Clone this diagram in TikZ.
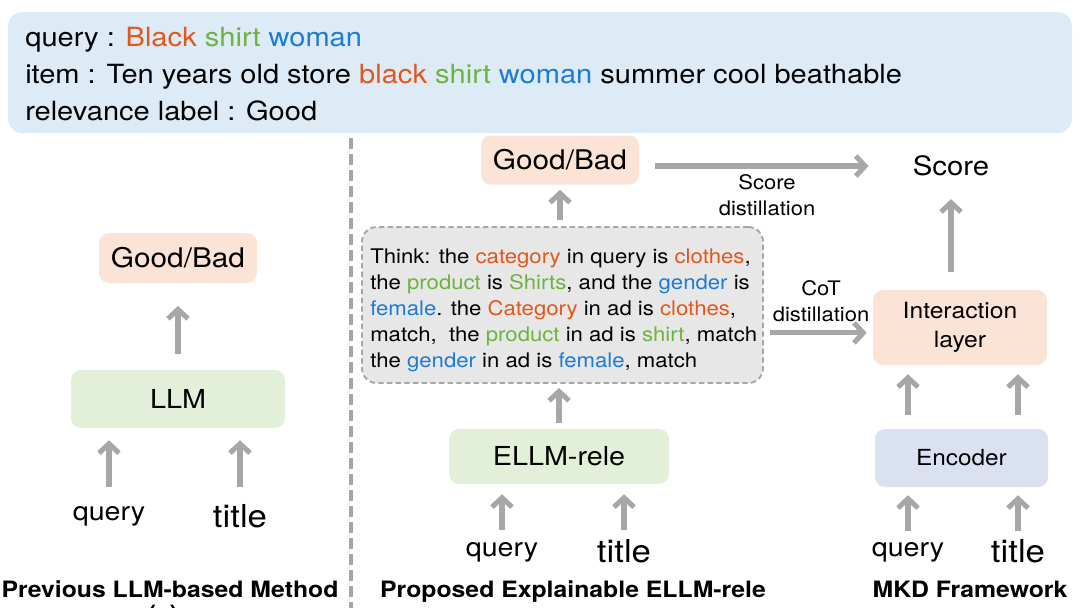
\documentclass[tikz,border=0pt]{standalone}
\usepackage{fontspec}
\setmainfont[FakeStretch=1.1]{TeX Gyre Heros}
\usetikzlibrary{arrows.meta}
\definecolor{cor}{HTML}{E2571B}
\definecolor{cgr}{HTML}{6DB33F}
\definecolor{cbl}{HTML}{1C7CD5}
\definecolor{topblue}{HTML}{DDEBF7}
\definecolor{salmon}{HTML}{FBE3D6}
\definecolor{lgreen}{HTML}{E2F0D9}
\definecolor{encblue}{HTML}{DAE2F2}
\definecolor{thinkgray}{HTML}{E8E7E7}
\definecolor{arrgray}{HTML}{A8A6A6}
\definecolor{dashgray}{HTML}{A6A6A6}
\newcommand{\co}[1]{\textcolor{cor}{#1}}
\newcommand{\cg}[1]{\textcolor{cgr}{#1}}
\newcommand{\cb}[1]{\textcolor{cbl}{#1}}
\begin{document}
\begin{tikzpicture}[x=0.75pt,y=-0.75pt,
  box/.style={rounded corners=7.5pt, inner sep=0pt, align=center},
  toptxt/.style={anchor=base west, inner sep=0pt, font=\fontsize{19.8}{24}\selectfont},
  thinktxt/.style={anchor=base west, inner sep=0pt, font=\fontsize{15.1}{19}\selectfont},
  inq/.style={anchor=base, inner sep=0pt, font=\fontsize{19.5}{23}\selectfont},
  intl/.style={anchor=base, inner sep=0pt, font=\fontsize{23.7}{28}\selectfont},
  lbl/.style={inner sep=0pt, align=center, font=\fontsize{15}{19.5}\selectfont},
  capt/.style={anchor=base, inner sep=0pt, font=\fontsize{16.9}{20}\selectfont\bfseries},
  arr/.style={draw=arrgray, line width=3.8pt, -{Straight Barb[length=7pt,width=15pt]}},
  divider/.style={draw=dashgray, line width=3.5pt, dash pattern=on 8.5pt off 3.5pt}
]
\useasboundingbox (0,0) rectangle (1080,607);
\clip (0,0) rectangle (1080,607);

% top information box
\node[box, fill=topblue, rounded corners=11pt, minimum width=798pt, minimum height=91pt] (info) at (540,72.5) {};
\node[toptxt] (l1) at (25,46) {query : \co{Black} \cg{shirt} \cb{woman}};
\node[toptxt] (l2) at (25,83) {item : Ten years old store \co{black} \cg{shirt} \cb{woman} summer cool beathable};
\node[toptxt] (l3) at (25,120) {relevance label : Good};

% divider
\draw[divider] (351,138) -- (351,610);

% left panel
\node[box, fill=salmon, minimum width=118.5pt, minimum height=37.5pt, font=\fontsize{20.3}{24}\selectfont] (gb1) at (178,258) {Good/Bad};
\node[box, fill=lgreen, minimum width=160.5pt, minimum height=43.5pt, font=\fontsize{19.6}{24}\selectfont] (llm) at (178,399) {LLM};
\node[inq] (q1) at (109,520) {query};
\node[intl] (t1) at (240,527) {title};
\draw[arr, shorten <=12pt, shorten >=17pt] (llm.north) -- (gb1.south);
\draw[arr, shorten <=13.8pt, shorten >=9pt] (q1.north) -- (q1.north |- llm.south);
\draw[arr, shorten <=12.2pt, shorten >=9pt] (t1.north) -- (t1.north |- llm.south);
\node[capt] (c1) at (170,597) {Previous LLM-based Method};
\node[capt] (c1b) at (163,621) {(a)};

% middle panel
\node[box, fill=salmon, minimum width=118.5pt, minimum height=36.75pt, font=\fontsize{20.3}{24}\selectfont] (gb2) at (560,160) {Good/Bad};
\node[box, fill=thinkgray, draw=dashgray, line width=1.4pt, dash pattern=on 4pt off 2.5pt, rounded corners=11pt, minimum width=300.75pt, minimum height=117pt] (think) at (562.5,305) {};
\node[thinktxt] (th1) at (370,263) {Think: the \co{category} in query is \co{clothes},};
\node[thinktxt] (th2) at (370,289) {the \cg{product} is \cg{Shirts}, and the \cb{gender} is};
\node[thinktxt] (th3) at (370,315) {\cb{female}. the \co{Category} in ad is \co{clothes},};
\node[thinktxt] (th4) at (370,341) {match,\ \ the \cg{product} in ad is \cg{shirt}, match};
\node[thinktxt] (th5) at (370,367) {the \cb{gender} in ad is \cb{female}, match};
\node[box, fill=lgreen, minimum width=165pt, minimum height=41.25pt, font=\fontsize{19.6}{24}\selectfont] (ellm) at (559,456.5) {ELLM-rele};
\node[inq] (q2) at (502,556) {query};
\node[intl] (t2) at (624,562) {title};
\draw[arr, shorten <=4.5pt, shorten >=3.75pt] (think.north -| gb2) -- (gb2.south);
\draw[arr, shorten <=4.5pt, shorten >=3pt] (ellm.north) -- (ellm.north |- think.south);
\draw[arr, shorten <=8.5pt, shorten >=7.5pt] (q2.north) -- (q2.north |- ellm.south);
\draw[arr, shorten <=6.2pt, shorten >=7.5pt] (t2.north) -- (t2.north |- ellm.south);
\node[capt] (c2) at (573,597) {Proposed Explainable ELLM-rele};

% right panel
\node[inner sep=0pt, font=\fontsize{20}{24}\selectfont] (score) at (951,166) {Score};
\node[box, fill=salmon, minimum width=130.5pt, minimum height=56.25pt, font=\fontsize{16.8}{21.75}\selectfont] (inter) at (960,327.5) {Interaction\\layer};
\node[box, fill=encblue, minimum width=129.75pt, minimum height=43.5pt, font=\fontsize{16.6}{20}\selectfont] (enc) at (961.5,458) {Encoder};
\node[inq] (q3) at (908,556) {query};
\node[intl] (t3) at (1018,562) {title};
\draw[arr, shorten <=7.8pt, shorten >=6pt] (q3.north) -- (q3.north |- enc.south);
\draw[arr, shorten <=5.5pt, shorten >=6pt] (t3.north) -- (t3.north |- enc.south);
\draw[arr, shorten <=10.5pt, shorten >=6.75pt] (enc.north -| q3) -- (inter.south -| q3);
\draw[arr, shorten <=10.5pt, shorten >=6.75pt] (enc.north -| t3) -- (inter.south -| t3);
\draw[arr, shorten <=13.5pt, shorten >=17pt] (inter.north -| score) -- (score.south);
\node[capt] (c3) at (970,597) {MKD Framework};

% distillation connectors
\draw[arr, shorten <=12pt, shorten >=33pt] (gb2.east |- score.west) -- (score.west);
\node[lbl] (sdl) at (767,195) {Score\\distillation};
\coordinate (cotin) at ([yshift=-4pt]inter.west);
\draw[arr, shorten <=4.5pt, shorten >=4.5pt] (think.east |- cotin) -- (cotin);
\node[lbl] (cdl) at (821,301) {CoT\\distillation};
\end{tikzpicture}
\end{document}
